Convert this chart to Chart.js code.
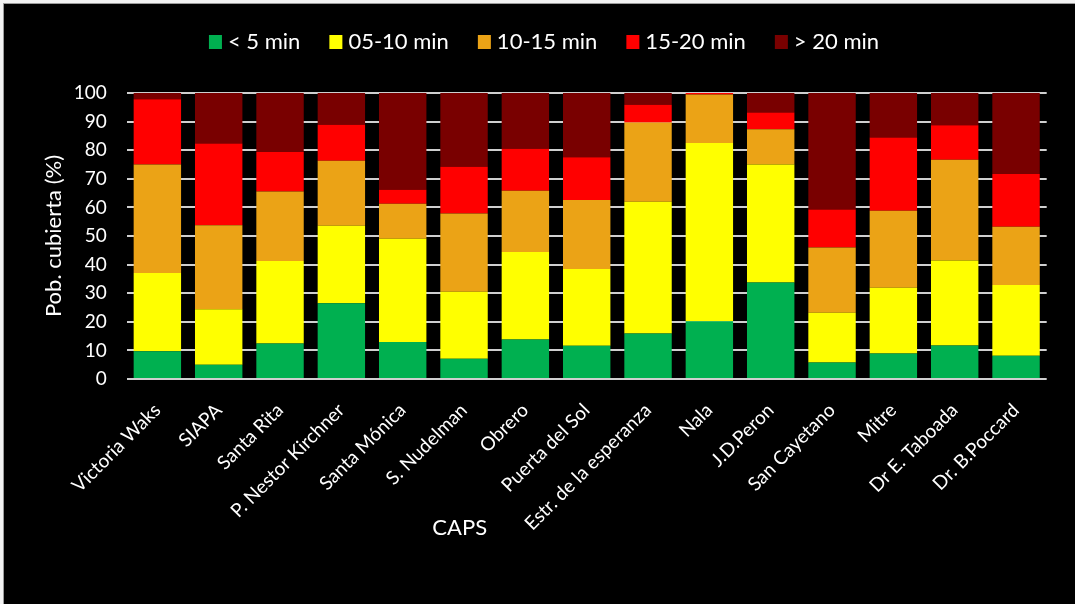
<!DOCTYPE html>
<html lang="es">
<head>
<meta charset="utf-8">
<title>Población cubierta por CAPS según tiempo de acceso</title>
<script src="https://cdn.jsdelivr.net/npm/chart.js@4/dist/chart.umd.min.js"></script>
<style>
  html, body { margin: 0; padding: 0; background: #f2f2f2; overflow: hidden; }
  #frame {
    position: absolute; left: 3px; top: 3px;
    width: 1072px; height: 601px;
    border-left: 1px solid #9c9c9c; border-top: 1px solid #9c9c9c;
    background: #000;
  }
  #chart { display: block; }
</style>
</head>
<body>
<div id="frame"><canvas id="chart" width="1072" height="601"></canvas></div>
<script>
// Centros de atención (CAPS)
const caps = [
  'Victoria Waks', 'SIAPA', 'Santa Rita', 'P. Nestor Kirchner', 'Santa Mónica',
  'S. Nudelman', 'Obrero', 'Puerta del Sol', 'Estr. de la esperanza', 'Nala',
  'J.D.Peron', 'San Cayetano', 'Mitre', 'Dr E. Taboada', 'Dr. B.Poccard'
];

// Porcentaje de población cubierta por franja de tiempo de viaje
const menos5   = [ 9.7,  5.0, 12.4, 26.5, 12.9,  7.1, 13.8, 11.6, 15.9, 20.2, 33.7,  5.8,  8.9, 11.7,  8.1];
const de5a10   = [27.4, 19.4, 28.9, 27.1, 36.1, 23.4, 30.6, 26.9, 46.1, 62.3, 41.3, 17.4, 23.0, 29.7, 24.8];
const de10a15  = [37.9, 29.4, 24.3, 22.7, 12.3, 27.4, 21.4, 24.1, 27.7, 17.0, 12.3, 22.8, 26.9, 35.3, 20.3];
const de15a20  = [22.8, 28.5, 13.8, 12.6,  4.9, 16.3, 14.7, 14.9,  6.2,  0.5,  5.9, 13.3, 25.6, 12.0, 18.5];
const mas20    = [ 2.2, 17.7, 20.6, 11.1, 33.8, 25.8, 19.5, 22.5,  4.1,  0.0,  6.8, 40.7, 15.6, 11.3, 28.3];

const seriesNames = ['< 5 min', '05-10 min', '10-15 min', '15-20 min', '> 20 min'];
const yTicks = [0, 10, 20, 30, 40, 50, 60, 70, 80, 90, 100];
const xTitle = 'CAPS';

const colores = ['#00b050', '#ffff00', '#eba316', '#ff0000', '#790000'];
const FONT = 'Lato, "Open Sans", sans-serif';

// Leyenda horizontal y título del eje de categorías
const rotulos = {
  id: 'rotulos',
  afterDraw(chart) {
    const ctx = chart.ctx;
    const size = 22, box = 13, boxH = 14, gapText = 6, gapItem = 29;
    ctx.save();
    ctx.font = size + 'px ' + FONT;
    ctx.textBaseline = 'middle';
    ctx.textAlign = 'left';
    const items = chart.data.datasets.map(ds => ({
      label: ds.label, color: ds.backgroundColor,
      w: box + gapText + ctx.measureText(ds.label).width
    }));
    const total = items.reduce((s, it) => s + it.w, 0) + gapItem * (items.length - 1);
    let x = chart.width / 2 - total / 2 + 4;
    const cy = 38;
    items.forEach(it => {
      ctx.fillStyle = it.color;
      ctx.fillRect(x, cy - boxH / 2, box, boxH);
      ctx.fillStyle = '#ffffff';
      ctx.fillText(it.label, x + box + gapText, cy);
      x += it.w + gapItem;
    });

    // título del eje X, desplazado hacia la izquierda del área de barras
    const area = chart.chartArea;
    ctx.textAlign = 'center';
    ctx.fillText(xTitle, area.left + 0.362 * (area.right - area.left), 524);
    ctx.restore();
  }
};

const series = [menos5, de5a10, de10a15, de15a20, mas20];

new Chart(document.getElementById('chart'), {
  type: 'bar',
  data: {
    labels: caps,
    datasets: series.map((vals, i) => ({
      label: seriesNames[i],
      data: vals,
      backgroundColor: colores[i],
      borderWidth: 0,
      barPercentage: 0.773,
      categoryPercentage: 1.0
    }))
  },
  options: {
    responsive: false,
    animation: false,
    devicePixelRatio: 1,
    layout: { padding: { top: 89, right: 29.3, bottom: 0, left: 0 } },
    plugins: {
      legend: { display: false },
      tooltip: { enabled: false }
    },
    scales: {
      x: {
        stacked: true,
        grid: { display: false, drawTicks: false },
        border: { display: false },
        ticks: {
          color: '#ffffff',
          font: { family: FONT, size: 19 },
          minRotation: 45, maxRotation: 45,
          padding: 20,
          autoSkip: false
        },
        afterFit(scale) { scale.height = 226; }
      },
      y: {
        stacked: true,
        min: 0, max: 100,
        afterBuildTicks(scale) { scale.ticks = yTicks.map(v => ({ value: v })); },
        grid: { color: '#cfcfcf', lineWidth: 2, drawTicks: false },
        border: { display: false },
        ticks: {
          color: '#ffffff',
          font: { family: FONT, size: 19 },
          padding: 20
        },
        title: {
          display: true, text: 'Pob. cubierta (%)', color: '#ffffff',
          font: { family: FONT, size: 22 },
          padding: { top: 37, bottom: 0 }
        },
        afterFit(scale) { scale.width = 122.7; }
      }
    }
  },
  plugins: [rotulos]
});
</script>
</body>
</html>
